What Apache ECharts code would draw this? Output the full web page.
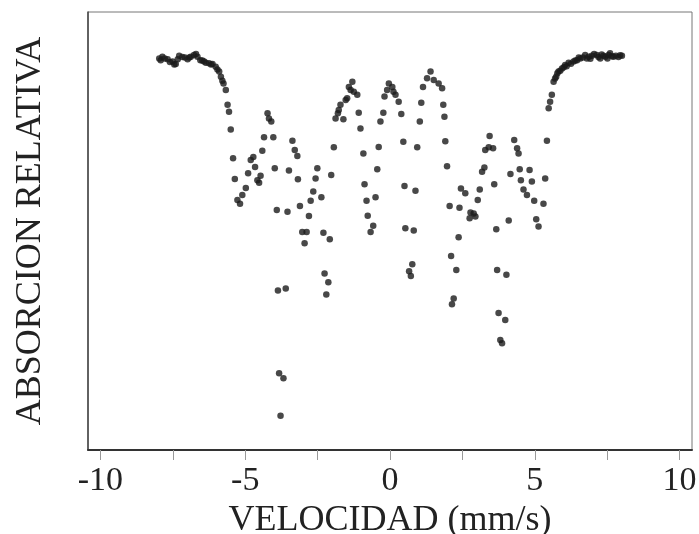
<!DOCTYPE html>
<html>
<head>
<meta charset="utf-8">
<script src="https://cdn.jsdelivr.net/npm/echarts@6/dist/echarts.min.js"></script>
<style>
  html, body { margin: 0; padding: 0; background: #fff; }
  #main { width: 699px; height: 534px; }
</style>
</head>
<body>
<div id="main"></div>
<script>
// velocidad (mm/s) y absorcion relativa (escala arbitraria 0-100)
const velocidad = [
  -7.97, -7.92, -7.86, -7.78, -7.68, -7.60, -7.51, -7.45, -7.40, -7.33, -7.28, -7.17, -7.08, -6.99, -6.93, -6.88,
  -6.77, -6.70, -6.65, -6.55, -6.48, -6.42, -6.36, -6.25, -6.18, -6.13, -6.02, -5.96, -5.90, -5.84, -5.79, -5.75,
  -5.67, -5.61, -5.56, -5.50, -5.42, -5.36, -5.27, -5.18, -5.10, -4.98, -4.90, -4.81, -4.72, -4.66, -4.58, -4.52,
  -4.47, -4.41, -4.35, -4.23, -4.18, -4.10, -4.03, -3.98, -3.91, -3.87, -3.83, -3.78, -3.68, -3.60, -3.54, -3.49,
  -3.37, -3.29, -3.20, -3.18, -3.11, -3.03, -2.95, -2.88, -2.80, -2.74, -2.65, -2.57, -2.51, -2.37, -2.30, -2.26,
  -2.20, -2.13, -2.08, -2.03, -1.94, -1.88, -1.80, -1.77, -1.71, -1.61, -1.53, -1.48, -1.42, -1.36, -1.30, -1.25,
  -1.13, -1.08, -1.02, -0.92, -0.88, -0.81, -0.77, -0.67, -0.58, -0.50, -0.44, -0.39, -0.33, -0.23, -0.19, -0.10,
  -0.04, 0.08, 0.12, 0.19, 0.30, 0.39, 0.46, 0.50, 0.53, 0.66, 0.72, 0.77, 0.82, 0.88, 0.94, 1.03,
  1.08, 1.14, 1.28, 1.40, 1.51, 1.68, 1.80, 1.84, 1.88, 1.91, 1.97, 2.06, 2.11, 2.14, 2.20, 2.29,
  2.37, 2.40, 2.45, 2.60, 2.75, 2.78, 2.89, 2.95, 3.03, 3.10, 3.18, 3.26, 3.29, 3.41, 3.44, 3.56,
  3.60, 3.67, 3.70, 3.75, 3.81, 3.87, 3.98, 4.02, 4.10, 4.16, 4.29, 4.39, 4.44, 4.48, 4.52, 4.61,
  4.73, 4.82, 4.90, 4.98, 5.05, 5.13, 5.30, 5.36, 5.42, 5.48, 5.53, 5.59, 5.65, 5.70, 5.74, 5.78,
  5.82, 5.88, 5.94, 6.00, 6.05, 6.10, 6.17, 6.25, 6.34, 6.40, 6.46, 6.52, 6.57, 6.66, 6.74, 6.80,
  6.86, 6.92, 6.97, 7.05, 7.14, 7.20, 7.26, 7.31, 7.37, 7.44, 7.51, 7.55, 7.60, 7.66, 7.72, 7.80,
  7.89, 7.95, 8.01
]
const absorcion = [
  89.4, 89.0, 89.8, 89.4, 89.2, 88.6, 88.7, 88.0, 88.1, 89.2, 90.0, 89.7, 89.6, 89.2, 89.6, 89.8,
  90.2, 90.4, 89.8, 89.0, 88.9, 88.7, 88.4, 88.3, 88.0, 88.1, 87.5, 86.9, 86.4, 85.2, 84.3, 83.7,
  82.2, 78.8, 77.2, 73.2, 66.6, 61.9, 57.1, 56.2, 58.2, 59.8, 63.2, 66.2, 66.9, 64.6, 61.6, 61.0,
  62.6, 68.3, 71.4, 76.9, 75.7, 75.0, 71.4, 64.3, 54.8, 36.4, 17.5, 7.8, 16.4, 36.9, 54.4, 63.8,
  70.6, 68.5, 67.1, 61.8, 55.7, 49.8, 47.2, 49.8, 53.4, 56.9, 59.0, 62.0, 64.3, 57.7, 49.6, 40.3,
  35.5, 38.3, 48.1, 62.8, 69.1, 75.7, 76.9, 77.6, 78.8, 75.5, 79.9, 80.3, 82.9, 82.2, 84.1, 81.8,
  81.1, 77.0, 73.4, 67.7, 60.7, 56.9, 53.5, 49.8, 51.2, 57.7, 64.1, 69.2, 75.0, 77.0, 80.7, 82.2,
  83.7, 82.9, 81.8, 81.1, 79.5, 76.7, 70.4, 60.3, 50.6, 40.8, 39.7, 42.4, 50.1, 59.2, 69.1, 75.0,
  79.3, 82.9, 84.9, 86.4, 84.5, 83.7, 82.6, 78.8, 76.1, 70.5, 64.8, 55.7, 44.3, 33.3, 34.6, 41.1,
  48.6, 55.3, 59.7, 58.6, 52.9, 54.2, 54.0, 53.3, 57.1, 59.5, 63.5, 64.5, 68.5, 69.1, 71.7, 68.9,
  60.7, 50.4, 41.1, 31.3, 25.1, 24.4, 29.7, 40.0, 52.4, 63.0, 70.8, 68.9, 67.7, 64.1, 61.6, 59.5,
  58.2, 63.9, 61.3, 56.9, 52.7, 51.0, 56.2, 62.0, 70.6, 78.0, 79.5, 81.1, 84.1, 84.8, 85.2, 86.0,
  86.4, 86.6, 87.1, 87.4, 87.9, 87.6, 88.4, 88.2, 88.7, 88.9, 89.0, 89.6, 89.4, 89.6, 90.2, 89.4,
  89.8, 89.3, 90.0, 90.4, 90.2, 89.7, 89.4, 90.3, 90.0, 89.8, 89.4, 90.2, 90.6, 89.9, 89.8, 90.0,
  89.7, 90.1, 90.0
]
// rango del marco y rango de las marcas del eje
const xMin = -10.43
const xMax = 10.43
const tickMin = -10
const tickMax = 10
const etiquetasX = [-10, -5, 0, 5, 10]

const fuente = 'Liberation Serif, Times New Roman, serif'

// marco del grafico (px)
const marco = { left: 88, right: 7, top: 12, bottom: 84 }
const anchoMarco = 699 - marco.left - marco.right
// el eje con marcas va en un segundo grid alineado con -10..10 del primero
const izqTicks = marco.left + (tickMin - xMin) / (xMax - xMin) * anchoMarco
const derTicks = marco.right + (xMax - tickMax) / (xMax - xMin) * anchoMarco

let puntos = velocidad.map((v, i) => [v, absorcion[i]])

let option = {
  animation: false,
  backgroundColor: '#fff',
  grid: [
    {
      left: marco.left,
      right: marco.right,
      top: marco.top,
      bottom: marco.bottom,
      outerBoundsMode: 'none',
      show: true,
      borderColor: '#777',
      borderWidth: 1
    },
    {
      left: izqTicks,
      right: derTicks,
      top: marco.top,
      bottom: marco.bottom,
      outerBoundsMode: 'none'
    }
  ],
  xAxis: [
    {
      gridIndex: 0,
      type: 'value',
      min: xMin,
      max: xMax,
      axisLine: { show: true, onZero: false, lineStyle: { color: '#333', width: 2 } },
      axisTick: { show: false },
      axisLabel: { show: false },
      splitLine: { show: false }
    },
    {
      gridIndex: 1,
      type: 'value',
      min: tickMin,
      max: tickMax,
      interval: 2.5,
      name: 'VELOCIDAD (mm/s)',
      nameLocation: 'middle',
      nameGap: 50,
      nameTextStyle: { fontFamily: fuente, fontSize: 36, color: '#222' },
      axisLine: { show: false, onZero: false },
      axisTick: { show: true, inside: false, length: 10, lineStyle: { color: '#999' } },
      axisLabel: {
        margin: 14,
        fontFamily: fuente,
        fontSize: 34,
        color: '#222',
        formatter: (v) => (etiquetasX.indexOf(v) >= 0 ? String(v) : '')
      },
      splitLine: { show: false }
    }
  ],
  yAxis: [
    {
      gridIndex: 0,
      type: 'value',
      min: 0,
      max: 100,
      name: 'ABSORCION RELATIVA',
      nameLocation: 'middle',
      nameGap: 39,
      nameTextStyle: { fontFamily: fuente, fontSize: 36, color: '#222' },
      axisLine: { show: true, onZero: false, lineStyle: { color: '#444', width: 1.5 } },
      axisTick: { show: false },
      axisLabel: { show: false },
      splitLine: { show: false }
    },
    {
      gridIndex: 1,
      type: 'value',
      min: 0,
      max: 100,
      show: false
    }
  ],
  series: [
    {
      type: 'scatter',
      xAxisIndex: 0,
      yAxisIndex: 0,
      data: puntos,
      symbol: 'circle',
      symbolSize: 6.5,
      itemStyle: { color: '#1a1a1a' }
    },
    {
      type: 'scatter',
      xAxisIndex: 1,
      yAxisIndex: 1,
      data: []
    }
  ]
}

let myChart = echarts.init(document.getElementById('main'))
myChart.setOption(option)
</script>
</body>
</html>
